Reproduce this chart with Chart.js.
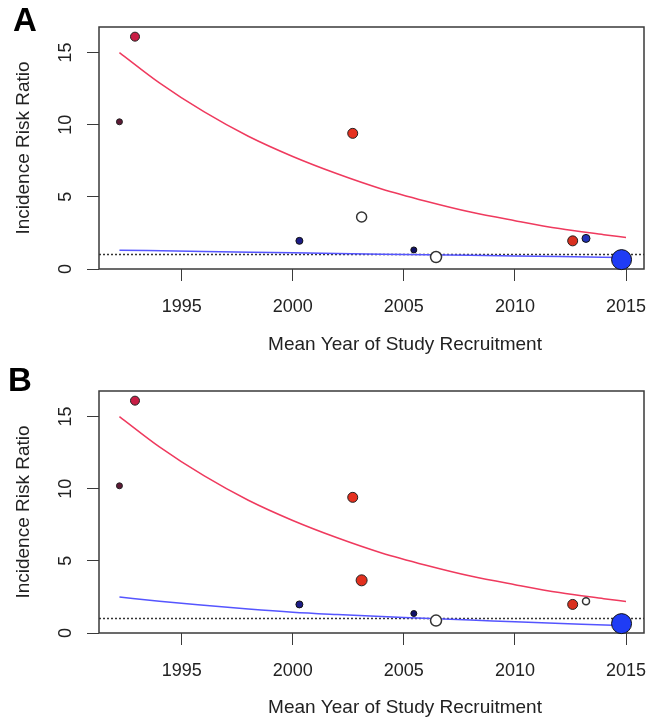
<!DOCTYPE html>
<html>
<head>
<meta charset="utf-8">
<script src="https://cdn.jsdelivr.net/npm/chart.js@4.4.0/dist/chart.umd.min.js"></script>
<style>
  html, body { margin: 0; padding: 0; background: #fff; }
  .panel { position: relative; width: 649px; height: 360px; }
</style>
</head>
<body>
<div class="panel"><canvas id="chartA" width="649" height="360"></canvas></div>
<div class="panel"><canvas id="chartB" width="649" height="360"></canvas></div>
<script>
// axis ticks
var xTicks = [1995, 2000, 2005, 2010, 2015];
var yTicks = [0, 5, 10, 15];
var xMin = 1991.28, xMax = 2015.81;
var yMin = 0, yMax = 16.77;
var refValue = 1;
var xTitle = "Mean Year of Study Recruitment";
var yTitle = "Incidence Risk Ratio";

// panel A studies
var aRedYear = [1992.2, 1992.9, 2002.7, 2012.6];
var aRedIrr = [10.2, 16.1, 9.4, 1.95];
var aBlueYear = [2000.3, 2005.45, 2013.2, 2014.8];
var aBlueIrr = [1.95, 1.32, 2.12, 0.65];
var aOpenYear = [2003.1, 2006.45];
var aOpenIrr = [3.6, 0.83];

// panel B studies
var bRedYear = [1992.2, 1992.9, 2002.7, 2003.1, 2012.6];
var bRedIrr = [10.2, 16.1, 9.4, 3.65, 1.98];
var bBlueYear = [2000.3, 2005.45, 2014.8];
var bBlueIrr = [1.98, 1.35, 0.65];
var bOpenYear = [2006.45, 2013.2];
var bOpenIrr = [0.86, 2.2];

// fitted curves
var redFitYear = [1992.2, 1994, 1996, 1998, 2000, 2002, 2004, 2006, 2008, 2010, 2012, 2014, 2015];
var redFitIrr = [15.0, 12.9, 10.9, 9.2, 7.8, 6.6, 5.55, 4.7, 3.95, 3.35, 2.8, 2.38, 2.18];
var blueFitYearA = [1992.2, 1996, 2000, 2004, 2008, 2012, 2015];
var blueFitIrrA = [1.3, 1.22, 1.12, 1.03, 0.95, 0.86, 0.8];
var blueFitYearB = [1992.2, 1994, 1996, 1998, 2000, 2002, 2005, 2008, 2010, 2013, 2015];
var blueFitIrrB = [2.5, 2.2, 1.92, 1.66, 1.44, 1.28, 1.07, 0.9, 0.78, 0.61, 0.5];

// point styles
var aRedRadius = [3, 4.5, 5, 5];
var aRedFill = ["#5c1a35", "#c81e45", "#e5301f", "#d9301f"];
var aBlueRadius = [3.5, 3, 4, 10];
var aBlueFill = ["#1c1c86", "#121266", "#2233b8", "#1f3cf5"];
var aOpenRadius = [5, 5.5];
var bRedRadius = [3, 4.5, 5, 5.5, 5];
var bRedFill = ["#5c1a35", "#c81e45", "#e5301f", "#e2301e", "#d9301f"];
var bBlueRadius = [3.5, 3, 10];
var bBlueFill = ["#1c1c86", "#121266", "#1f3cf5"];
var bOpenRadius = [5.5, 3.5];

var FONT = '"Liberation Sans", Arial, Helvetica, sans-serif';

function pts(xs, ys) {
  return xs.map(function (x, i) { return { x: x, y: ys[i] }; });
}

function pointSet(xs, ys, radius, fill, border, bw) {
  return {
    data: pts(xs, ys),
    pointRadius: radius,
    pointBackgroundColor: fill,
    pointBorderColor: border,
    pointBorderWidth: bw || 1,
    showLine: false,
    clip: false,
    order: 0
  };
}

function lineSet(xs, ys, color, dash) {
  return {
    data: pts(xs, ys),
    showLine: true,
    borderColor: color,
    borderWidth: dash ? 1.4 : 1.5,
    borderDash: dash || [],
    pointRadius: 0,
    cubicInterpolationMode: "monotone",
    order: 1
  };
}

// R-style box, rotated y tick labels, x title and panel letter
var rPlot = {
  id: "rPlot",
  beforeDatasetsDraw: function (chart) {
    var ctx = chart.ctx, a = chart.chartArea;
    ctx.save();
    ctx.strokeStyle = "#3a3a3a";
    ctx.lineWidth = 1.5;
    ctx.strokeRect(a.left, a.top, a.right - a.left, a.bottom - a.top);
    ctx.restore();
  },
  afterDraw: function (chart, args, opts) {
    var ctx = chart.ctx, ys = chart.scales.y;
    ctx.save();
    ctx.fillStyle = "#222";
    ctx.font = "18px " + FONT;
    ctx.textAlign = "center";
    ctx.textBaseline = "middle";
    yTicks.forEach(function (v) {
      ctx.save();
      ctx.translate(66, ys.getPixelForValue(v));
      ctx.rotate(-Math.PI / 2);
      ctx.fillText(String(v), 0, 0);
      ctx.restore();
    });
    ctx.font = "19px " + FONT;
    ctx.fillText(xTitle, 405, opts.titleY);
    ctx.fillStyle = "#000";
    ctx.font = "bold 33px " + FONT;
    ctx.textAlign = "left";
    ctx.fillText(opts.letter, opts.lx, 22);
    ctx.restore();
  }
};

function makePanel(id, letter, lx, datasets, padTop, xHeight, titleY) {
  new Chart(document.getElementById(id), {
    type: "scatter",
    data: { datasets: datasets },
    plugins: [rPlot],
    options: {
      responsive: false,
      animation: false,
      layout: { autoPadding: false, padding: { top: padTop, right: 5, left: 0, bottom: 0 } },
      plugins: {
        legend: { display: false },
        tooltip: { enabled: false },
        rPlot: { letter: letter, lx: lx, titleY: titleY }
      },
      scales: {
        x: {
          type: "linear",
          min: xMin,
          max: xMax,
          afterBuildTicks: function (s) { s.ticks = xTicks.map(function (v) { return { value: v }; }); },
          afterFit: function (s) {
            s.height = xHeight;
            s.paddingLeft = 0;
            s.paddingRight = 0;
          },
          ticks: {
            color: "#222",
            font: { family: FONT, size: 18 },
            padding: 15,
            maxRotation: 0,
            callback: function (v) { return String(v); }
          },
          grid: { drawOnChartArea: false, drawTicks: true, tickLength: 12, color: "#3a3a3a", lineWidth: 1 },
          border: { display: false }
        },
        y: {
          type: "linear",
          min: yMin,
          max: yMax,
          afterBuildTicks: function (s) { s.ticks = yTicks.map(function (v) { return { value: v }; }); },
          afterFit: function (s) { s.width = 99; },
          ticks: { display: false },
          grid: { drawOnChartArea: false, drawTicks: true, tickLength: 12, color: "#3a3a3a", lineWidth: 1 },
          border: { display: false },
          title: {
            display: true,
            text: yTitle,
            color: "#222",
            font: { family: FONT, size: 19 },
            padding: { top: 12, bottom: 0 }
          }
        }
      }
    }
  });
}

makePanel("chartA", "A", 13, [
  pointSet(aBlueYear, aBlueIrr, aBlueRadius, aBlueFill, "#111"),
  pointSet(aRedYear, aRedIrr, aRedRadius, aRedFill, "#222"),
  pointSet(aOpenYear, aOpenIrr, aOpenRadius, "#ffffff", "#333", 1.5),
  lineSet(redFitYear, redFitIrr, "#ef3a5e"),
  lineSet(blueFitYearA, blueFitIrrA, "#5555ff"),
  lineSet([xMin, xMax], [refValue, refValue], "#333", [2, 2])
], 27, 91, 345);

makePanel("chartB", "B", 8, [
  pointSet(bBlueYear, bBlueIrr, bBlueRadius, bBlueFill, "#111"),
  pointSet(bRedYear, bRedIrr, bRedRadius, bRedFill, "#222"),
  pointSet(bOpenYear, bOpenIrr, bOpenRadius, "#ffffff", "#333", 1.5),
  lineSet(redFitYear, redFitIrr, "#ef3a5e"),
  lineSet(blueFitYearB, blueFitIrrB, "#5555ff"),
  lineSet([xMin, xMax], [refValue, refValue], "#333", [2, 2])
], 31, 87, 348);
</script>
</body>
</html>
